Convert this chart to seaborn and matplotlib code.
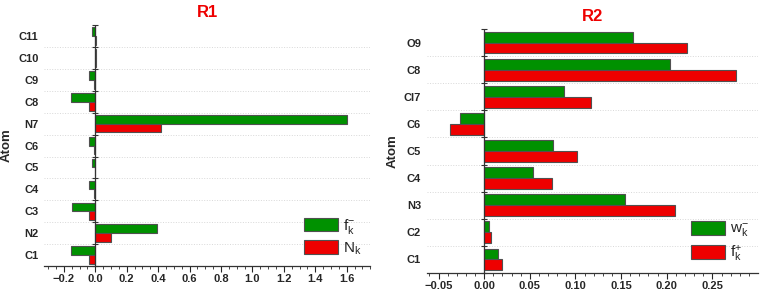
import numpy as np
import pandas as pd
import matplotlib
matplotlib.use("Agg")
import matplotlib.pyplot as plt
from matplotlib.ticker import MultipleLocator
import seaborn as sns

# data (top of the chart first)
atoms_r1 = ['C11', 'C10', 'C9', 'C8', 'N7', 'C6', 'C5', 'C4', 'C3', 'N2', 'C1']
fk_minus_r1 = [-0.02, 0.003, -0.04, -0.155, 1.60, -0.04, -0.02, -0.04, -0.15, 0.39, -0.155]
nk_r1 = [0.002, 0.001, -0.01, -0.04, 0.415, -0.01, -0.005, -0.01, -0.04, 0.10, -0.04]

atoms_r2 = ['O9', 'C8', 'Cl7', 'C6', 'C5', 'C4', 'N3', 'C2', 'C1']
wk_minus_r2 = [0.163, 0.204, 0.087, -0.027, 0.075, 0.054, 0.154, 0.005, 0.015]
fk_plus_r2 = [0.222, 0.276, 0.117, -0.037, 0.102, 0.074, 0.209, 0.007, 0.020]

labels_r1 = [r'$\mathregular{f_k^{-}}$', r'$\mathregular{N_k}$']
labels_r2 = [r'$\mathregular{w_k^{-}}$', r'$\mathregular{f^{+}_{k}}$']

green = '#009100'
red = '#EE0000'

sns.set_style('white')
plt.rcParams['font.family'] = ['Liberation Sans', 'DejaVu Sans']
plt.rcParams['mathtext.fontset'] = 'custom'
plt.rcParams['mathtext.rm'] = 'Liberation Sans'
plt.rcParams['mathtext.it'] = 'Liberation Sans'


def make_df(atoms, s1, s2, names):
    return pd.DataFrame({
        'atom': atoms * 2,
        'value': list(s1) + list(s2),
        'series': [names[0]] * len(atoms) + [names[1]] * len(atoms),
    })


def draw_panel(ax, df, atoms, names, title, xlim, major, minor):
    sns.barplot(data=df, y='atom', x='value', hue='series', orient='h',
                palette=[green, red], edgecolor='#505050', linewidth=0.8,
                width=0.8, ax=ax, saturation=1)
    n = len(atoms)
    ax.set_ylim(n - 0.5, -0.5)
    ax.set_xlim(*xlim)
    ax.xaxis.set_major_locator(MultipleLocator(major))
    ax.xaxis.set_minor_locator(MultipleLocator(minor))
    ax.tick_params(axis='x', which='major', direction='out', length=4, width=0.8,
                   bottom=True, labelsize=8, pad=2)
    ax.tick_params(axis='x', which='minor', direction='out', length=2.5, width=0.6,
                   bottom=True)
    ax.tick_params(axis='y', which='both', length=0, labelsize=8, pad=4)
    for lab in ax.get_xticklabels() + ax.get_yticklabels():
        lab.set_fontweight('bold')
    # light dotted lines between categories
    ax.set_yticks(np.arange(n - 1) + 0.5, minor=True)
    ax.grid(which='minor', axis='y', linestyle=':', color='#d8d8d8', linewidth=0.7)
    ax.grid(which='major', visible=False)
    for s in ['top', 'right', 'left']:
        ax.spines[s].set_visible(False)
    ax.spines['bottom'].set_color('#333333')
    ax.spines['bottom'].set_linewidth(0.9)
    # axis line at zero with small ticks at category borders
    ax.axvline(0, color='#333333', linewidth=0.9, zorder=5)
    edges = np.arange(n + 1) - 0.5
    ax.plot(np.zeros(len(edges)), edges, linestyle='none', marker='_',
            markersize=4, color='#333333', markeredgewidth=0.8, zorder=5,
            clip_on=False)
    ax.set_xlabel('')
    ax.set_ylabel('Atom', fontsize=9.5, fontweight='bold', labelpad=4)
    ax.set_title(title, color=red, fontweight='bold', fontsize=12, pad=6)
    handles, _ = ax.get_legend_handles_labels()
    ax.legend(handles, names, loc='lower right', frameon=False, fontsize=11,
              handlelength=2.2, handleheight=1.0, handletextpad=0.3,
              labelspacing=0.3, borderaxespad=0.2)


fig = plt.figure(figsize=(7.66, 2.95), dpi=100)
ax1 = fig.add_axes([0.0574, 0.098, 0.426, 0.817])
ax2 = fig.add_axes([0.557, 0.0746, 0.432, 0.827])

draw_panel(ax1, make_df(atoms_r1, fk_minus_r1, nk_r1, labels_r1), atoms_r1, labels_r1,
           'R1', (-0.327, 1.75), 0.2, 0.05)
draw_panel(ax2, make_df(atoms_r2, wk_minus_r2, fk_plus_r2, labels_r2), atoms_r2, labels_r2,
           'R2', (-0.063, 0.2995), 0.05, 0.01)

fig.savefig('out.png', dpi=100)
